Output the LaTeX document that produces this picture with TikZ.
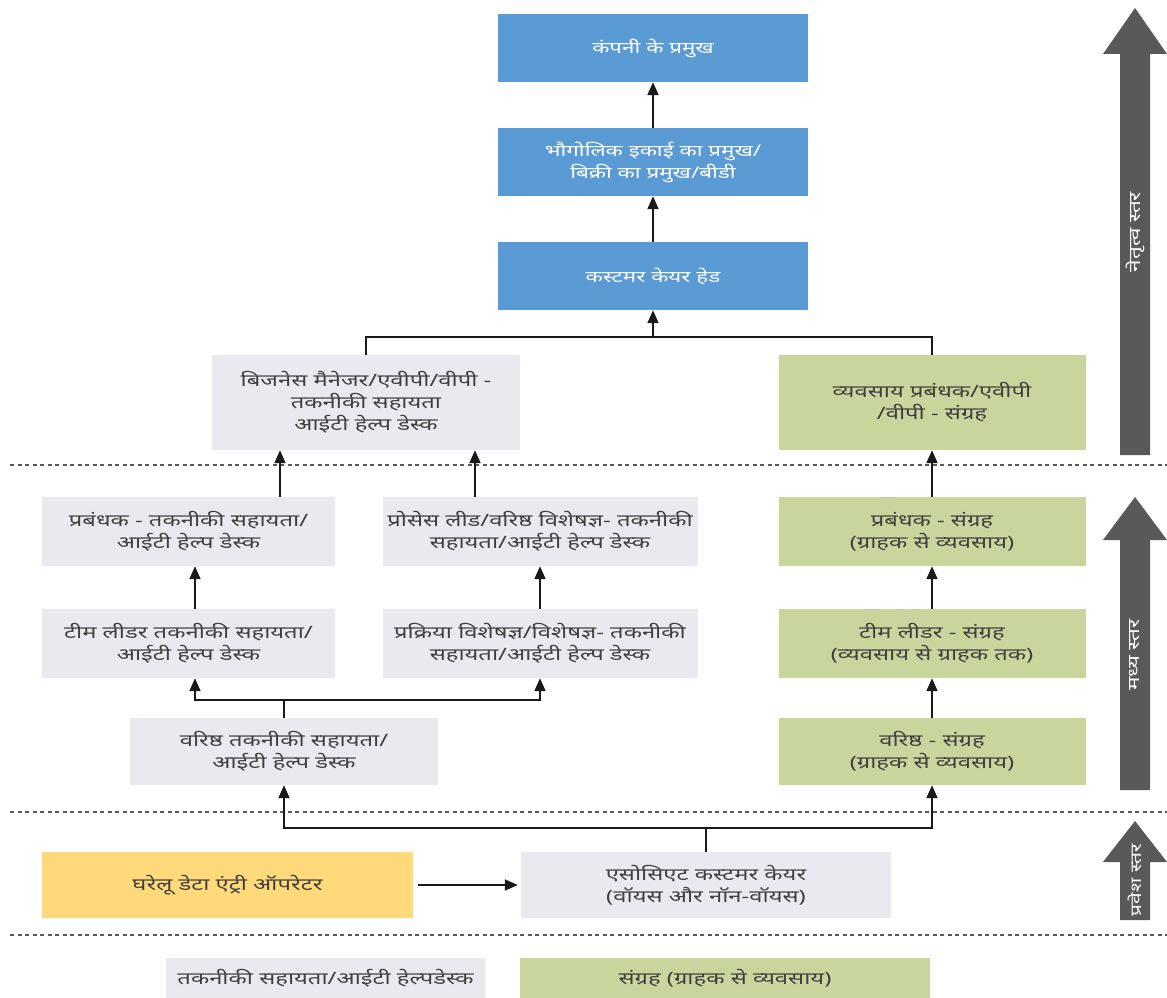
\documentclass[tikz,border=0pt]{standalone}
\usepackage{fontspec}
\setmainfont{Noto Sans}[Script=Devanagari, FakeStretch=1.4]
\usetikzlibrary{arrows.meta}
\definecolor{bluebox}{HTML}{5B9BD5}
\definecolor{graybox}{HTML}{E9E9EF}
\definecolor{greenbox}{HTML}{C8D59C}
\definecolor{yellowbox}{HTML}{FFD97A}
\definecolor{txtgray}{HTML}{3F3F3F}
\definecolor{sidegray}{HTML}{595959}
\definecolor{linegray}{HTML}{1A1A1A}
\tikzset{
  basebox/.style={inner sep=0pt, align=center, text=txtgray, font=\fontsize{17}{22}\selectfont},
  bluenode/.style={basebox, fill=bluebox, text=white, font=\fontsize{16}{22}\selectfont\bfseries},
  graynode/.style={basebox, fill=graybox},
  greennode/.style={basebox, fill=greenbox},
  yellownode/.style={basebox, fill=yellowbox},
  conn/.style={line width=1.8pt, draw=linegray},
  arr/.style={conn, -{Triangle[length=13pt,width=11pt]}},
  sep/.style={line width=1.8pt, draw=sidegray, dash pattern=on 4pt off 3.5pt},
  sidearrow/.style={fill=sidegray},
  sidelabel/.style={rotate=90, text=white, font=\fontsize{16}{18}\selectfont\bfseries, inner sep=0pt}
}
\begin{document}
\begin{tikzpicture}[x=1pt,y=-1pt]
\useasboundingbox (0,0) rectangle (1167,998);
\fill[white] (0,0) rectangle (1167,998);

% separators
\draw[sep] (10,465) -- (1167,465);
\draw[sep] (10,812) -- (1167,812);
\draw[sep] (10,935) -- (1167,935);

% top blue boxes
\node[bluenode, minimum width=310, minimum height=68] (b1) at (653,48) {कंपनी के प्रमुख};
\node[bluenode, minimum width=310, minimum height=68] (b2) at (653,162) {भौगोलिक इकाई का प्रमुख/\\बिक्री का प्रमुख/बीडी};
\node[bluenode, minimum width=310, minimum height=68] (b3) at (653,276) {कस्टमर केयर हेड};

% business managers
\node[graynode, minimum width=308, minimum height=95] (bmL) at (366,402.5) {बिजनेस मैनेजर/एवीपी/वीपी -\\तकनीकी सहायता\\आईटी हेल्प डेस्क};
\node[greennode, minimum width=307, minimum height=95] (bmR) at (932,402.5) {व्यवसाय प्रबंधक/एवीपी\\/वीपी - संग्रह};

% middle left
\node[graynode, minimum width=293, minimum height=69] (mgrL) at (188.5,531.5) {प्रबंधक - तकनीकी सहायता/\\आईटी हेल्प डेस्क};
\node[graynode, minimum width=315, minimum height=69] (plL) at (540,531.5) {प्रोसेस लीड/वरिष्ठ विशेषज्ञ- तकनीकी\\सहायता/आईटी हेल्प डेस्क};
\node[graynode, minimum width=293, minimum height=69] (tlL) at (188.5,643.5) {टीम लीडर तकनीकी सहायता/\\आईटी हेल्प डेस्क};
\node[graynode, minimum width=315, minimum height=69] (psL) at (540,643.5) {प्रक्रिया विशेषज्ञ/विशेषज्ञ- तकनीकी\\सहायता/आईटी हेल्प डेस्क};
\node[graynode, minimum width=308, minimum height=67] (senL) at (284,751.5) {वरिष्ठ तकनीकी सहायता/\\आईटी हेल्प डेस्क};

% middle right
\node[greennode, minimum width=307, minimum height=69] (mgrR) at (932,531.5) {प्रबंधक - संग्रह\\(ग्राहक से व्यवसाय)};
\node[greennode, minimum width=307, minimum height=69] (tlR) at (932,643.5) {टीम लीडर - संग्रह\\(व्यवसाय से ग्राहक तक)};
\node[greennode, minimum width=307, minimum height=67] (senR) at (932,751.5) {वरिष्ठ - संग्रह\\(ग्राहक से व्यवसाय)};

% entry level
\node[yellownode, minimum width=371, minimum height=66] (dom) at (227.5,885) {घरेलू डेटा एंट्री ऑपरेटर};
\node[graynode, minimum width=370, minimum height=66] (assoc) at (706,885) {एसोसिएट कस्टमर केयर\\(वॉयस और नॉन-वॉयस)};

% legend
\node[graynode, minimum width=319, minimum height=40] (legG) at (325.5,978) {तकनीकी सहायता/आईटी हेल्पडेस्क};
\node[greennode, minimum width=410, minimum height=40] (legN) at (725,978) {संग्रह (ग्राहक से व्यवसाय)};

% helper coordinates
\coordinate (jTop) at (653,337);
\coordinate (xA) at (280,0);
\coordinate (xB) at (475,0);
\coordinate (xC) at (195,0);
\coordinate (j2) at (284,700);
\coordinate (j3) at (706,828);

% top connectors
\draw[arr] (b2.north) -- (b1.south);
\draw[arr] (b3.north) -- (b2.south);
\draw[conn] (bmL.north) |- (jTop) -| (bmR.north);
\draw[arr] (jTop) -- (b3.south);

% left column
\draw[arr] (mgrL.north -| xA) -- (bmL.south -| xA);
\draw[arr] (plL.north -| xB) -- (bmL.south -| xB);
\draw[arr] (tlL.north -| xC) -- (mgrL.south -| xC);
\draw[arr] (psL.north) -- (plL.south);
\draw[conn] (senL.north) -- (j2);
\draw[arr] (j2) -| (tlL.south -| xC);
\draw[arr] (j2) -| (psL.south);

% right column
\draw[arr] (mgrR.north) -- (bmR.south);
\draw[arr] (tlR.north) -- (mgrR.south);
\draw[arr] (senR.north) -- (tlR.south);

% entry connectors
\draw[conn] (assoc.north) -- (j3);
\draw[arr] (j3) -| (senL.south);
\draw[arr] (j3) -| (senR.south);
\draw[arr, shorten <=5pt, shorten >=3pt] (dom.east) -- (assoc.west);

% side arrows
\fill[sidearrow] (1120,455) -- (1120,54) -- (1103,54) -- (1135,8) -- (1167,54) -- (1150,54) -- (1150,455) -- cycle;
\node[sidelabel] (lv1) at (1135,232) {नेतृत्व स्तर};
\fill[sidearrow] (1120,790) -- (1120,540) -- (1103,540) -- (1135,497) -- (1167,540) -- (1150,540) -- (1150,790) -- cycle;
\node[sidelabel] (lv2) at (1135,655) {मध्य स्तर};
\fill[sidearrow] (1120,920) -- (1120,862) -- (1103,862) -- (1135,821) -- (1167,862) -- (1150,862) -- (1150,920) -- cycle;
\node[sidelabel, font=\fontsize{15}{18}\selectfont\bfseries] (lv3) at (1135,880) {प्रवेश स्तर};
\end{tikzpicture}
\end{document}
